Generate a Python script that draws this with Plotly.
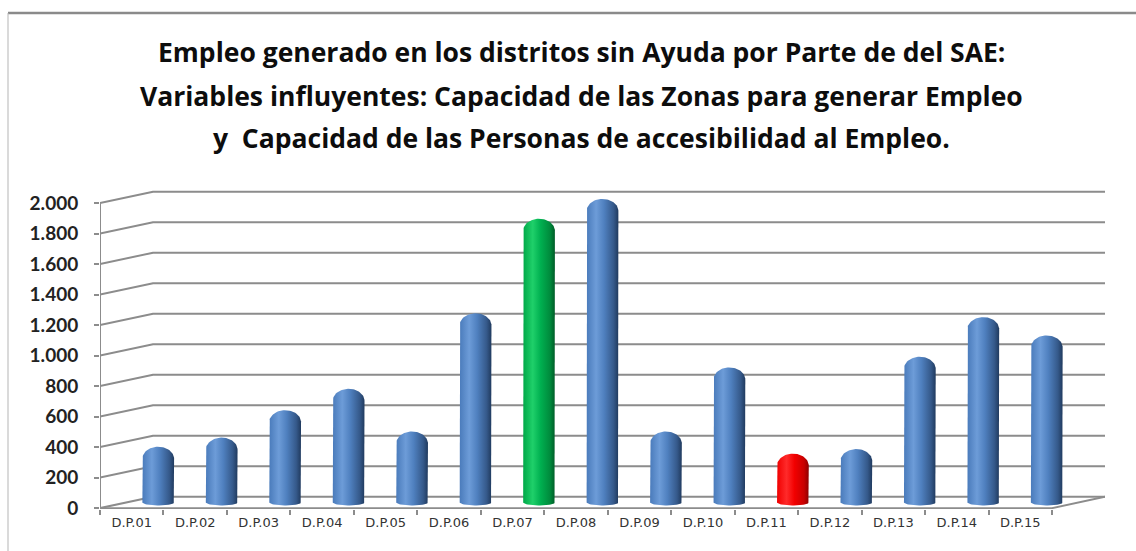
import numpy as np
import plotly.graph_objects as go

# ---------------- data ----------------
categories = ["D.P.01", "D.P.02", "D.P.03", "D.P.04", "D.P.05", "D.P.06", "D.P.07", "D.P.08",
              "D.P.09", "D.P.10", "D.P.11", "D.P.12", "D.P.13", "D.P.14", "D.P.15"]
values = [365, 425, 605, 745, 465, 1240, 1860, 1990, 465, 885, 320, 350, 955, 1215, 1095]
highlight = ["blue", "blue", "blue", "blue", "blue", "blue", "green", "blue",
             "blue", "blue", "red", "blue", "blue", "blue", "blue"]
y_ticks = [0, 200, 400, 600, 800, 1000, 1200, 1400, 1600, 1800, 2000]
y_ticktext = ["0", "200", "400", "600", "800", "1.000", "1.200", "1.400", "1.600", "1.800", "2.000"]
title_lines = [
    "Empleo generado en los distritos sin Ayuda por Parte de del SAE:",
    "Variables influyentes: Capacidad de las Zonas para generar Empleo",
    "y  Capacidad de las Personas de accesibilidad al Empleo.",
]

# ---------------- pseudo-3D geometry (axis units) ----------------
W, H = 1136, 551
L, R, T, B = 100, 31, 180, 42
plot_w = W - L - R
plot_h = H - T - B
n = len(categories)
DX = 0.835           # depth offset in category units (front -> back wall)
DY = 75.0            # depth offset in value units (front -> back wall)
PX_PER_UNIT = 0.1525 # vertical px per value unit
ZERO_PX = 496.7      # pixel row of the back-wall zero line
y_top = (ZERO_PX - T) / PX_PER_UNIT
y_bot = (ZERO_PX - (H - B)) / PX_PER_UNIT
x_max = n + DX

palette = {
    "blue": [[0, "#4a7bbb"], [0.3, "#6d9cd8"], [0.55, "#4f80bf"], [0.85, "#35598a"], [1, "#203a5e"]],
    "green": [[0, "#00a848"], [0.3, "#1fd06a"], [0.55, "#00b050"], [0.85, "#008a3c"], [1, "#005c28"]],
    "red": [[0, "#f00000"], [0.3, "#ff2a2a"], [0.55, "#f20000"], [0.85, "#c80000"], [1, "#8c0000"]],
}

fig = go.Figure()

# gridlines (front slant + back wall)
gx, gy = [], []
for v in y_ticks:
    gx += [0, DX, x_max, None]
    gy += [v - DY, v, v, None]
fig.add_trace(go.Scatter(x=gx, y=gy, mode="lines", line=dict(color="#8c8c8c", width=2),
                         hoverinfo="skip", showlegend=False))
# front axis + floor edge
fig.add_trace(go.Scatter(x=[0, 0, None, 0, n, x_max], y=[y_ticks[-1] - DY, -DY, None, -DY, -DY, 0],
                         mode="lines", line=dict(color="#8c8c8c", width=2),
                         hoverinfo="skip", showlegend=False))

# cylinders
mid_dx = DX / 2
mid_dy = DY / 2
hw = 0.25
cap = 12 / PX_PER_UNIT
bot = 3 / PX_PER_UNIT
for i, (cat, v, col) in enumerate(zip(categories, values, highlight)):
    c = i + 0.5 + mid_dx
    base = -mid_dy
    top = v - mid_dy
    t_cap = np.linspace(np.pi, 0, 40)
    t_bot = np.linspace(0, np.pi, 30)
    xs = np.concatenate([[c - hw], c + hw * np.cos(t_cap), [c + hw], c + hw * np.cos(t_bot)])
    ys = np.concatenate([[base], (top - cap) + cap * np.sin(t_cap), [base], base - bot * np.sin(t_bot)])
    fig.add_trace(go.Scatter(
        x=xs, y=ys, mode="lines", fill="toself", line=dict(width=0, color="rgba(0,0,0,0)"),
        fillgradient=dict(type="horizontal", colorscale=palette[col]),
        name=cat, hoverinfo="text", text=f"{cat}: {v}", showlegend=False))

# title
title_y = [52, 96, 138]
for line, yp in zip(title_lines, title_y):
    fig.add_annotation(text=line, xref="paper", yref="paper",
                       x=(581 - L) / plot_w, y=(H - B - yp) / plot_h,
                       xanchor="center", yanchor="middle", showarrow=False,
                       font=dict(family="Open Sans", size=26.5, color="#0d0d0d", weight="bold"))

# chart border
fig.add_shape(type="line", xref="paper", yref="paper",
              x0=(8 - L) / plot_w, x1=(W + 5 - L) / plot_w,
              y0=(H - B - 13) / plot_h, y1=(H - B - 13) / plot_h,
              line=dict(color="#8a8a8a", width=2.5))
fig.add_shape(type="line", xref="paper", yref="paper",
              x0=(8 - L) / plot_w, x1=(8 - L) / plot_w,
              y0=(H - B - 13) / plot_h, y1=(H - B - 560) / plot_h,
              line=dict(color="#b5b5b5", width=1))

fig.update_layout(
    width=W, height=H,
    margin=dict(l=L, r=R, t=T, b=B, pad=0),
    paper_bgcolor="white", plot_bgcolor="white",
    showlegend=False,
    xaxis=dict(range=[0, x_max], showgrid=False, zeroline=False, showline=False,
               tickmode="array", tickvals=[i + 0.5 for i in range(n)], ticktext=categories,
               ticks="", ticklabelstandoff=4,
               tickfont=dict(family="DejaVu Sans", size=13, color="#333333"),
               minor=dict(tickmode="array", tickvals=list(range(n + 1)), ticks="outside",
                          ticklen=5, tickcolor="#8c8c8c", tickwidth=2, showgrid=False),
               fixedrange=True),
    yaxis=dict(range=[y_bot, y_top], showgrid=False, zeroline=False, showline=False,
               tickmode="array", tickvals=[v - DY for v in y_ticks], ticktext=y_ticktext,
               ticks="outside", ticklen=5, tickcolor="#8c8c8c", tickwidth=2,
               ticklabelstandoff=12,
               tickfont=dict(family="Lato", size=19, color="#222222", weight="bold"),
               fixedrange=True),
)

fig.write_html("out.html", config={"displayModeBar": False},
               post_script="document.body.style.margin='0';")
